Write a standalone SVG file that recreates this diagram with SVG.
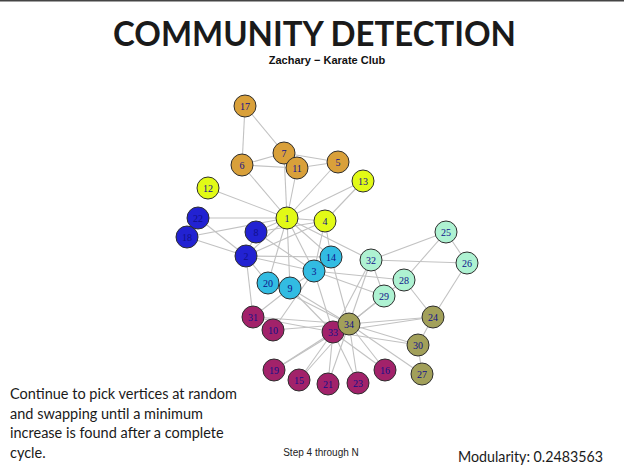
<svg xmlns="http://www.w3.org/2000/svg" width="624" height="469" viewBox="0 0 624 469">
<style>
.e{stroke:#c2c2c2;stroke-width:1.1;fill:none}
.n circle{stroke:#2e2e2e;stroke-width:1}
.n text{font-family:"Liberation Serif",serif;font-size:10px;fill:#10108a;text-anchor:middle;dominant-baseline:central}
.or circle{fill:#d9a03a}
.ye circle{fill:#e2fa16}
.bl circle{fill:#2222d2}
.cy circle{fill:#32bce2}
.mi circle{fill:#aef2d2}
.ol circle{fill:#a2a05a}
.mg circle{fill:#a2226a}
.t{font-family:Lato,"Open Sans",sans-serif;fill:#1a1a1a}
</style>
<rect width="624" height="469" fill="#ffffff"/>
<rect width="624" height="1.5" fill="#444444"/>
<text class="t" x="113" y="45.5" font-size="35" font-weight="bold" textLength="403" lengthAdjust="spacingAndGlyphs" fill="#000">COMMUNITY DETECTION</text>
<text x="327" y="63.5" font-family="Liberation Sans,Arial,sans-serif" font-size="11" font-weight="bold" text-anchor="middle" fill="#111">Zachary − Karate Club</text>
<g id="connectors">
<line class="e" x1="287" y1="218" x2="246" y2="256"/>
<line class="e" x1="287" y1="218" x2="314" y2="271"/>
<line class="e" x1="287" y1="218" x2="325" y2="221"/>
<line class="e" x1="287" y1="218" x2="338" y2="162"/>
<line class="e" x1="287" y1="218" x2="242" y2="165"/>
<line class="e" x1="287" y1="218" x2="284" y2="153"/>
<line class="e" x1="287" y1="218" x2="256" y2="232"/>
<line class="e" x1="287" y1="218" x2="290" y2="288"/>
<line class="e" x1="287" y1="218" x2="297" y2="168"/>
<line class="e" x1="287" y1="218" x2="208" y2="188"/>
<line class="e" x1="287" y1="218" x2="363" y2="181"/>
<line class="e" x1="287" y1="218" x2="331" y2="257"/>
<line class="e" x1="287" y1="218" x2="187" y2="237"/>
<line class="e" x1="287" y1="218" x2="268" y2="283"/>
<line class="e" x1="287" y1="218" x2="198" y2="218"/>
<line class="e" x1="287" y1="218" x2="371" y2="260"/>
<line class="e" x1="246" y1="256" x2="314" y2="271"/>
<line class="e" x1="246" y1="256" x2="325" y2="221"/>
<line class="e" x1="246" y1="256" x2="256" y2="232"/>
<line class="e" x1="246" y1="256" x2="331" y2="257"/>
<line class="e" x1="246" y1="256" x2="187" y2="237"/>
<line class="e" x1="246" y1="256" x2="268" y2="283"/>
<line class="e" x1="246" y1="256" x2="198" y2="218"/>
<line class="e" x1="246" y1="256" x2="253" y2="317"/>
<line class="e" x1="314" y1="271" x2="325" y2="221"/>
<line class="e" x1="314" y1="271" x2="256" y2="232"/>
<line class="e" x1="314" y1="271" x2="290" y2="288"/>
<line class="e" x1="314" y1="271" x2="273" y2="330"/>
<line class="e" x1="314" y1="271" x2="331" y2="257"/>
<line class="e" x1="314" y1="271" x2="404" y2="280"/>
<line class="e" x1="314" y1="271" x2="384" y2="296"/>
<line class="e" x1="314" y1="271" x2="333" y2="332"/>
<line class="e" x1="325" y1="221" x2="256" y2="232"/>
<line class="e" x1="325" y1="221" x2="363" y2="181"/>
<line class="e" x1="325" y1="221" x2="331" y2="257"/>
<line class="e" x1="338" y1="162" x2="284" y2="153"/>
<line class="e" x1="338" y1="162" x2="297" y2="168"/>
<line class="e" x1="242" y1="165" x2="284" y2="153"/>
<line class="e" x1="242" y1="165" x2="297" y2="168"/>
<line class="e" x1="242" y1="165" x2="245" y2="106"/>
<line class="e" x1="284" y1="153" x2="245" y2="106"/>
<line class="e" x1="290" y1="288" x2="253" y2="317"/>
<line class="e" x1="290" y1="288" x2="333" y2="332"/>
<line class="e" x1="290" y1="288" x2="349" y2="324"/>
<line class="e" x1="273" y1="330" x2="349" y2="324"/>
<line class="e" x1="331" y1="257" x2="349" y2="324"/>
<line class="e" x1="299" y1="380" x2="333" y2="332"/>
<line class="e" x1="299" y1="380" x2="349" y2="324"/>
<line class="e" x1="385" y1="370" x2="333" y2="332"/>
<line class="e" x1="385" y1="370" x2="349" y2="324"/>
<line class="e" x1="274" y1="370" x2="333" y2="332"/>
<line class="e" x1="274" y1="370" x2="349" y2="324"/>
<line class="e" x1="268" y1="283" x2="349" y2="324"/>
<line class="e" x1="328" y1="384" x2="333" y2="332"/>
<line class="e" x1="328" y1="384" x2="349" y2="324"/>
<line class="e" x1="358" y1="383" x2="333" y2="332"/>
<line class="e" x1="358" y1="383" x2="349" y2="324"/>
<line class="e" x1="433" y1="317" x2="467" y2="263"/>
<line class="e" x1="433" y1="317" x2="404" y2="280"/>
<line class="e" x1="433" y1="317" x2="418" y2="345"/>
<line class="e" x1="433" y1="317" x2="333" y2="332"/>
<line class="e" x1="433" y1="317" x2="349" y2="324"/>
<line class="e" x1="446" y1="232" x2="467" y2="263"/>
<line class="e" x1="446" y1="232" x2="404" y2="280"/>
<line class="e" x1="446" y1="232" x2="371" y2="260"/>
<line class="e" x1="467" y1="263" x2="371" y2="260"/>
<line class="e" x1="422" y1="374" x2="418" y2="345"/>
<line class="e" x1="422" y1="374" x2="349" y2="324"/>
<line class="e" x1="404" y1="280" x2="349" y2="324"/>
<line class="e" x1="384" y1="296" x2="371" y2="260"/>
<line class="e" x1="384" y1="296" x2="349" y2="324"/>
<line class="e" x1="418" y1="345" x2="333" y2="332"/>
<line class="e" x1="418" y1="345" x2="349" y2="324"/>
<line class="e" x1="253" y1="317" x2="333" y2="332"/>
<line class="e" x1="253" y1="317" x2="349" y2="324"/>
<line class="e" x1="371" y1="260" x2="333" y2="332"/>
<line class="e" x1="371" y1="260" x2="349" y2="324"/>
<line class="e" x1="333" y1="332" x2="349" y2="324"/>
</g>
<g id="node-17" class="n or"><circle cx="245" cy="106" r="11"/><text x="245" y="106">17</text></g>
<g id="node-6" class="n or"><circle cx="242" cy="165" r="11"/><text x="242" y="165">6</text></g>
<g id="node-7" class="n or"><circle cx="284" cy="153" r="11"/><text x="284" y="153">7</text></g>
<g id="node-11" class="n or"><circle cx="297" cy="168" r="11"/><text x="297" y="168">11</text></g>
<g id="node-5" class="n or"><circle cx="338" cy="162" r="11"/><text x="338" y="162">5</text></g>
<g id="node-13" class="n ye"><circle cx="363" cy="181" r="11"/><text x="363" y="181">13</text></g>
<g id="node-12" class="n ye"><circle cx="208" cy="188" r="11"/><text x="208" y="188">12</text></g>
<g id="node-1" class="n ye"><circle cx="287" cy="218" r="11"/><text x="287" y="218">1</text></g>
<g id="node-4" class="n ye"><circle cx="325" cy="221" r="11"/><text x="325" y="221">4</text></g>
<g id="node-22" class="n bl"><circle cx="198" cy="218" r="11"/><text x="198" y="218">22</text></g>
<g id="node-18" class="n bl"><circle cx="187" cy="237" r="11"/><text x="187" y="237">18</text></g>
<g id="node-8" class="n bl"><circle cx="256" cy="232" r="11"/><text x="256" y="232">8</text></g>
<g id="node-2" class="n bl"><circle cx="246" cy="256" r="11"/><text x="246" y="256">2</text></g>
<g id="node-14" class="n cy"><circle cx="331" cy="257" r="11"/><text x="331" y="257">14</text></g>
<g id="node-3" class="n cy"><circle cx="314" cy="271" r="11"/><text x="314" y="271">3</text></g>
<g id="node-20" class="n cy"><circle cx="268" cy="283" r="11"/><text x="268" y="283">20</text></g>
<g id="node-9" class="n cy"><circle cx="290" cy="288" r="11"/><text x="290" y="288">9</text></g>
<g id="node-25" class="n mi"><circle cx="446" cy="232" r="11"/><text x="446" y="232">25</text></g>
<g id="node-26" class="n mi"><circle cx="467" cy="263" r="11"/><text x="467" y="263">26</text></g>
<g id="node-32" class="n mi"><circle cx="371" cy="260" r="11"/><text x="371" y="260">32</text></g>
<g id="node-28" class="n mi"><circle cx="404" cy="280" r="11"/><text x="404" y="280">28</text></g>
<g id="node-29" class="n mi"><circle cx="384" cy="296" r="11"/><text x="384" y="296">29</text></g>
<g id="node-31" class="n mg"><circle cx="253" cy="317" r="11"/><text x="253" y="317">31</text></g>
<g id="node-10" class="n mg"><circle cx="273" cy="330" r="11"/><text x="273" y="330">10</text></g>
<g id="node-33" class="n mg"><circle cx="333" cy="332" r="11"/><text x="333" y="332">33</text></g>
<g id="node-34" class="n ol"><circle cx="349" cy="324" r="11"/><text x="349" y="324">34</text></g>
<g id="node-24" class="n ol"><circle cx="433" cy="317" r="11"/><text x="433" y="317">24</text></g>
<g id="node-30" class="n ol"><circle cx="418" cy="345" r="11"/><text x="418" y="345">30</text></g>
<g id="node-27" class="n ol"><circle cx="422" cy="374" r="11"/><text x="422" y="374">27</text></g>
<g id="node-19" class="n mg"><circle cx="274" cy="370" r="11"/><text x="274" y="370">19</text></g>
<g id="node-15" class="n mg"><circle cx="299" cy="380" r="11"/><text x="299" y="380">15</text></g>
<g id="node-21" class="n mg"><circle cx="328" cy="384" r="11"/><text x="328" y="384">21</text></g>
<g id="node-23" class="n mg"><circle cx="358" cy="383" r="11"/><text x="358" y="383">23</text></g>
<g id="node-16" class="n mg"><circle cx="385" cy="370" r="11"/><text x="385" y="370">16</text></g>
<text class="t" font-size="14.5" x="10">
<tspan x="10" y="399">Continue to pick vertices at random</tspan>
<tspan x="10" y="418.5">and swapping until a minimum</tspan>
<tspan x="10" y="438">increase is found after a complete</tspan>
<tspan x="10" y="457.5">cycle.</tspan>
</text>
<text x="321" y="456" font-family="Liberation Sans,Arial,sans-serif" font-size="10" text-anchor="middle" fill="#222">Step 4 through N</text>
<text class="t" x="458" y="462" font-size="14.5" textLength="145" lengthAdjust="spacingAndGlyphs">Modularity: 0.2483563</text>
</svg>
